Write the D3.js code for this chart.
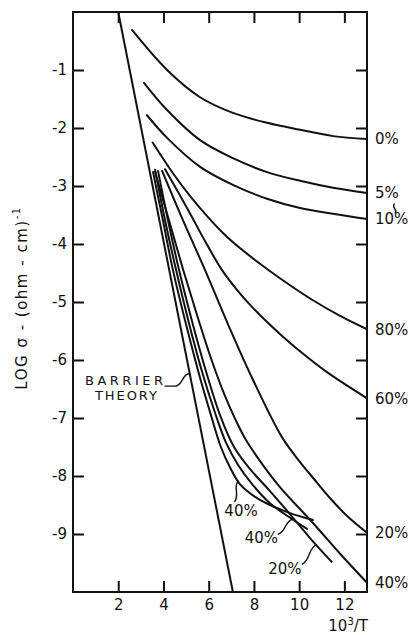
<!DOCTYPE html>
<html>
<head>
<meta charset="utf-8">
<script src="https://cdn.jsdelivr.net/npm/d3@7"></script>
<style>
  html, body { margin: 0; padding: 0; background: #fff; }
  svg { display: block; font-family: "DejaVu Sans", "Noto Sans", sans-serif; }
</style>
</head>
<body>
<svg id="chart" width="414" height="635"></svg>
<script>
// ---- axis ticks ----
const xTickVals   = [2, 4, 6, 8, 10, 12];
const xTickLabels = ["2", "4", "6", "8", "10", "12"];
const yTickVals   = [-1, -2, -3, -4, -5, -6, -7, -8, -9];
const yTickLabels = ["-1", "-2", "-3", "-4", "-5", "-6", "-7", "-8", "-9"];

// ---- conductivity curves: x = 10^3/T, y = log sigma ----
// curves running to the right edge
const x_0  = [2.61, 4.16, 5.62, 7.07, 8.58, 10.04, 11.50, 13.0];
const y_0  = [-0.31, -1.00, -1.47, -1.74, -1.91, -2.03, -2.14, -2.19];
const x_5  = [3.14, 4.16, 5.62, 7.07, 8.58, 10.04, 11.50, 13.0];
const y_5  = [-1.22, -1.69, -2.21, -2.52, -2.76, -2.91, -3.03, -3.12];
const x_10 = [3.27, 4.16, 5.62, 7.07, 8.58, 10.04, 11.50, 13.0];
const y_10 = [-1.78, -2.17, -2.67, -2.98, -3.22, -3.38, -3.48, -3.57];
const x_80 = [3.52, 4.42, 5.17, 5.93, 6.63, 7.38, 8.27, 9.15, 10.61, 11.81, 13.0];
const y_80 = [-2.25, -2.78, -3.17, -3.52, -3.81, -4.07, -4.34, -4.59, -4.97, -5.24, -5.47];
const x_60 = [4.07, 4.64, 5.17, 5.88, 6.59, 7.25, 7.83, 8.49, 9.15, 10.04, 11.23, 13.0];
const y_60 = [-2.71, -3.10, -3.47, -3.98, -4.45, -4.79, -5.05, -5.31, -5.55, -5.85, -6.21, -6.66];
const x_20 = [3.94, 4.86, 5.84, 6.85, 7.92, 9.24, 10.04, 10.61, 11.36, 12.12, 13.0];
const y_20 = [-2.74, -3.59, -4.45, -5.38, -6.31, -7.33, -7.76, -8.03, -8.38, -8.69, -8.98];
const x_40 = [3.63, 4.25, 4.86, 5.48, 6.10, 6.72, 7.21, 7.65, 8.36, 9.15, 10.61, 11.81, 13.0];
const y_40 = [-2.76, -3.60, -4.43, -5.22, -5.97, -6.62, -7.05, -7.38, -7.79, -8.19, -8.81, -9.34, -9.84];

// shorter runs inside the plot
const x_40a = [3.54, 3.98, 4.42, 5.04, 5.62, 6.10, 6.54, 6.94, 7.38, 8.05, 8.71, 9.60, 10.61];
const y_40a = [-2.76, -3.60, -4.45, -5.45, -6.31, -6.95, -7.50, -7.85, -8.14, -8.36, -8.50, -8.64, -8.76];
const x_40b = [3.63, 4.07, 4.56, 5.17, 5.75, 6.28, 6.77, 7.30, 7.92, 8.71, 9.60, 10.35];
const y_40b = [-2.72, -3.59, -4.45, -5.43, -6.26, -6.91, -7.43, -7.81, -8.14, -8.47, -8.72, -8.91];
const x_20s = [3.76, 4.20, 4.69, 5.31, 5.93, 6.50, 7.12, 7.83, 8.71, 9.60, 10.48, 11.44];
const y_20s = [-2.74, -3.59, -4.45, -5.40, -6.26, -6.95, -7.50, -7.88, -8.26, -8.66, -9.07, -9.48];

// barrier theory line
const x_barrier = [2.0, 7.07];
const y_barrier = [0, -10];

const edgeNames = ["0%", "5%", "10%", "80%", "60%", "20%", "40%"];
const innerNames = ["40%", "40%", "20%"];

// ---- build series ----
const zip = (xs, ys) => xs.map((v, i) => [v, ys[i]]);
const edgeCurves = [
  zip(x_0, y_0), zip(x_5, y_5), zip(x_10, y_10), zip(x_80, y_80),
  zip(x_60, y_60), zip(x_20, y_20), zip(x_40, y_40)
];
const innerCurves = [zip(x_40a, y_40a), zip(x_40b, y_40b), zip(x_20s, y_20s)];
const barrier = zip(x_barrier, y_barrier);

// value of a series at a given x (linear between points)
function yAt(pts, xv) {
  for (let i = 1; i < pts.length; i++) {
    if (xv <= pts[i][0]) {
      const t = (xv - pts[i - 1][0]) / (pts[i][0] - pts[i - 1][0]);
      return pts[i - 1][1] + t * (pts[i][1] - pts[i - 1][1]);
    }
  }
  return pts[pts.length - 1][1];
}

// ---- scales ----
const ink = "#111";
const svg = d3.select("#chart");
const x = d3.scaleLinear().domain([0, 13]).range([73, 367]);
const y = d3.scaleLinear().domain([0, -10]).range([12, 592]);

// ---- axes (ticks point inward on all four sides) ----
function styleAxis(g) {
  g.select(".domain").remove();
  g.attr("font-family", "DejaVu Sans, sans-serif").attr("font-size", 15);
  g.selectAll(".tick line").attr("stroke", ink).attr("stroke-width", 2);
  g.selectAll(".tick text").attr("fill", ink);
}
const yFmt = d => yTickLabels[yTickVals.indexOf(d)];
const xFmt = d => xTickLabels[xTickVals.indexOf(d)];

svg.append("g").attr("transform", `translate(${x(0)},0)`)
  .call(d3.axisLeft(y).tickValues(yTickVals).tickFormat(yFmt)
    .tickSizeInner(-11).tickSizeOuter(0).tickPadding(6))
  .call(styleAxis);
svg.append("g").attr("transform", `translate(${x(13)},0)`)
  .call(d3.axisRight(y).tickValues(yTickVals).tickFormat("")
    .tickSizeInner(-11).tickSizeOuter(0))
  .call(styleAxis);
svg.append("g").attr("transform", `translate(0,${y(-10)})`)
  .call(d3.axisBottom(x).tickValues(xTickVals).tickFormat(xFmt)
    .tickSizeInner(-11).tickSizeOuter(0).tickPadding(7))
  .call(styleAxis);
svg.append("g").attr("transform", `translate(0,${y(0)})`)
  .call(d3.axisTop(x).tickValues(xTickVals).tickFormat("")
    .tickSizeInner(-11).tickSizeOuter(0))
  .call(styleAxis);

// frame
svg.append("rect")
  .attr("x", x(0)).attr("y", y(0))
  .attr("width", x(13) - x(0)).attr("height", y(-10) - y(0))
  .attr("fill", "none").attr("stroke", ink).attr("stroke-width", 2);

// ---- curves ----
const line = d3.line()
  .x(d => x(d[0])).y(d => y(d[1]))
  .curve(d3.curveCatmullRom.alpha(0.5));

const plot = svg.append("g")
  .attr("fill", "none").attr("stroke", ink)
  .attr("stroke-width", 2).attr("stroke-linecap", "round");

plot.append("path").attr("d", d3.line().x(d => x(d[0])).y(d => y(d[1]))(barrier));
plot.selectAll("path.edge").data(edgeCurves).join("path")
  .attr("class", "edge").attr("d", line);
plot.selectAll("path.inner").data(innerCurves).join("path")
  .attr("class", "inner").attr("d", line);

// ---- labels at the right edge ----
svg.append("g")
  .attr("font-size", 15).attr("fill", ink)
  .selectAll("text").data(edgeCurves).join("text")
  .attr("x", x(13) + 8)
  .attr("y", d => y(d[d.length - 1][1]))
  .attr("dy", "0.36em")
  .text((d, i) => edgeNames[i]);

// S-shaped leader between two points
function squiggle(ax, ay, bx, by, amp) {
  const dx = bx - ax, dy = by - ay;
  const len = Math.hypot(dx, dy) || 1;
  const nx = -dy / len, ny = dx / len;
  const c1x = ax + dx * 0.33 + nx * amp, c1y = ay + dy * 0.33 + ny * amp;
  const c2x = ax + dx * 0.67 - nx * amp, c2y = ay + dy * 0.67 - ny * amp;
  return `M${ax},${ay}C${c1x},${c1y} ${c2x},${c2y} ${bx},${by}`;
}
const lead = svg.append("g").attr("fill", "none").attr("stroke", ink)
  .attr("stroke-width", 1.4).attr("stroke-linecap", "round");

// small wavy mark over the 10% label
const yEnd10 = y(y_10[y_10.length - 1]);
lead.append("path").attr("d", squiggle(x(14.25), yEnd10 - 6, x(14.2), yEnd10 - 15, 3));

// ---- labels on the inner runs, each tied to its curve by a squiggle ----
const innerLabelPos = [[7.43, -8.60], [8.33, -9.06], [9.37, -9.60]];
const innerTouchX = [7.30, 9.70, 10.75];
const innerFoot = [[7.15, -8.44], [9.08, -9.00], [10.14, -9.52]];

svg.append("g").attr("font-size", 15).attr("fill", ink)
  .attr("text-anchor", "middle")
  .selectAll("text").data(innerNames).join("text")
  .attr("x", (d, i) => x(innerLabelPos[i][0]))
  .attr("y", (d, i) => y(innerLabelPos[i][1]))
  .attr("dy", "0.36em")
  .text(d => d);

innerCurves.forEach((c, i) => {
  const tx = innerTouchX[i];
  lead.append("path").attr("d", squiggle(
    x(innerFoot[i][0]), y(innerFoot[i][1]),
    x(tx), y(yAt(c, tx)), 4));
});

// ---- barrier theory annotation ----
const bTouchX = 5.16;
const bx = x(bTouchX), by = y(yAt(barrier, bTouchX));
const label = svg.append("g").attr("font-size", 13).attr("fill", ink);
label.append("text").attr("x", x(0.53)).attr("y", y(-6.43))
  .attr("textLength", 78).attr("lengthAdjust", "spacing").text("BARRIER");
label.append("text").attr("x", x(0.97)).attr("y", y(-6.69))
  .attr("textLength", 62).attr("lengthAdjust", "spacing").text("THEORY");
const sx = x(4.07), sy = y(-6.45);
lead.append("path").attr("d", `M${sx},${sy}H${sx + 10}` +
  squiggle(sx + 10, sy, bx, by, 5).replace(/^M[^C]*/, ""));

// ---- axis titles ----
const xt = svg.append("text").attr("x", x(13) + 1).attr("y", 631)
  .attr("text-anchor", "end").attr("font-size", 15).attr("fill", ink);
xt.append("tspan").text("10");
xt.append("tspan").attr("font-size", 10).attr("dy", -6).text("3");
xt.append("tspan").attr("dy", 6).text("/");
xt.append("tspan").text("T");

const yt = svg.append("text")
  .attr("transform", "translate(27,298) rotate(-90)")
  .attr("text-anchor", "middle").attr("font-size", 15).attr("fill", ink)
  .attr("letter-spacing", 1.5);
yt.append("tspan").text("LOG σ - (ohm - cm)");
yt.append("tspan").attr("font-size", 10).attr("dy", -7).text("-1");
</script>
</body>
</html>
